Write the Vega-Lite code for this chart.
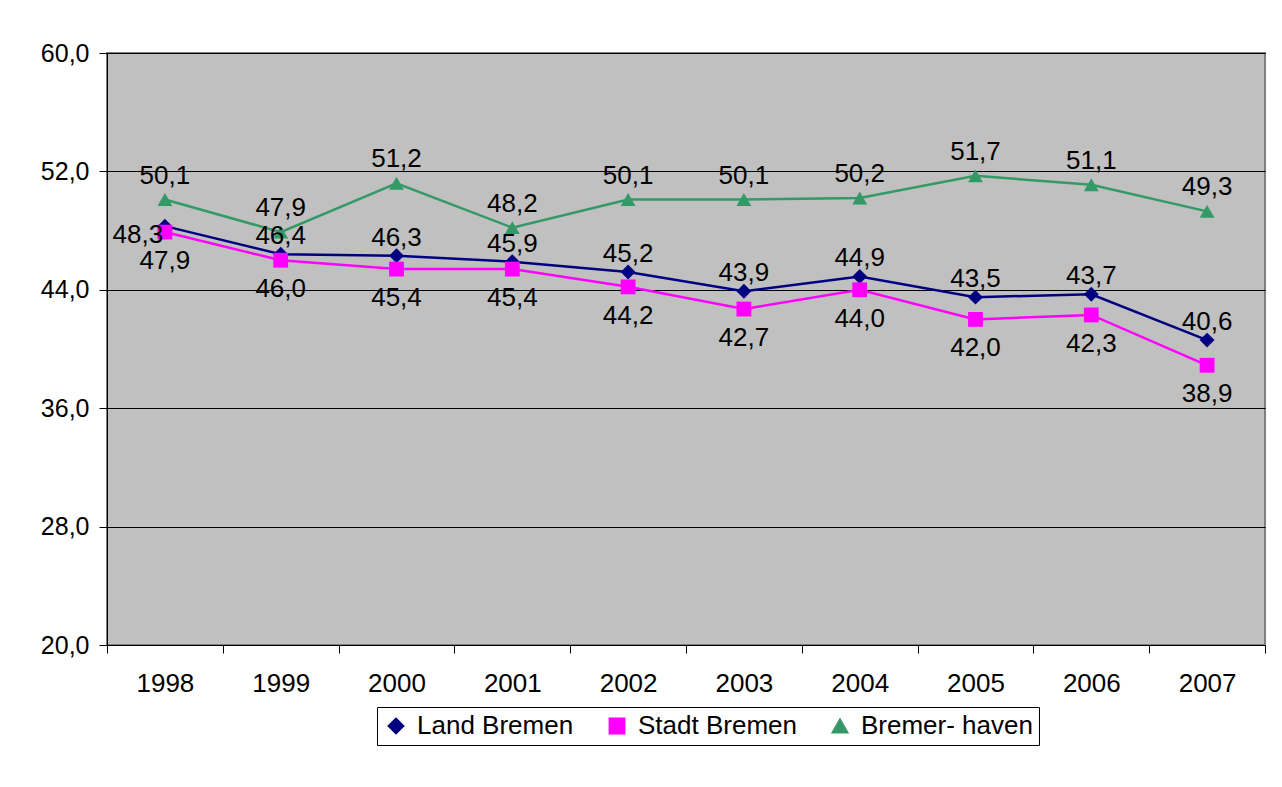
{
  "$schema": "https://vega.github.io/schema/vega-lite/v6.json",
  "autosize": {"type": "none"},
  "width": 1158,
  "height": 592,
  "padding": {"left": 107, "top": 53, "right": 17, "bottom": 142},
  "background": "white",
  "config": {
    "locale": {"number": {"decimal": ",", "thousands": ".", "grouping": [3], "currency": ["", " €"]}},
    "view": {"fill": "#C0C0C0", "stroke": "#808080", "strokeWidth": 2},
    "font": "Liberation Sans"
  },
  "data": {
    "values": [
      {"year": "1998", "series": "Land Bremen", "value": 48.3},
      {"year": "1999", "series": "Land Bremen", "value": 46.4},
      {"year": "2000", "series": "Land Bremen", "value": 46.3},
      {"year": "2001", "series": "Land Bremen", "value": 45.9},
      {"year": "2002", "series": "Land Bremen", "value": 45.2},
      {"year": "2003", "series": "Land Bremen", "value": 43.9},
      {"year": "2004", "series": "Land Bremen", "value": 44.9},
      {"year": "2005", "series": "Land Bremen", "value": 43.5},
      {"year": "2006", "series": "Land Bremen", "value": 43.7},
      {"year": "2007", "series": "Land Bremen", "value": 40.6},
      {"year": "1998", "series": "Stadt Bremen", "value": 47.9},
      {"year": "1999", "series": "Stadt Bremen", "value": 46.0},
      {"year": "2000", "series": "Stadt Bremen", "value": 45.4},
      {"year": "2001", "series": "Stadt Bremen", "value": 45.4},
      {"year": "2002", "series": "Stadt Bremen", "value": 44.2},
      {"year": "2003", "series": "Stadt Bremen", "value": 42.7},
      {"year": "2004", "series": "Stadt Bremen", "value": 44.0},
      {"year": "2005", "series": "Stadt Bremen", "value": 42.0},
      {"year": "2006", "series": "Stadt Bremen", "value": 42.3},
      {"year": "2007", "series": "Stadt Bremen", "value": 38.9},
      {"year": "1998", "series": "Bremer- haven", "value": 50.1},
      {"year": "1999", "series": "Bremer- haven", "value": 47.9},
      {"year": "2000", "series": "Bremer- haven", "value": 51.2},
      {"year": "2001", "series": "Bremer- haven", "value": 48.2},
      {"year": "2002", "series": "Bremer- haven", "value": 50.1},
      {"year": "2003", "series": "Bremer- haven", "value": 50.1},
      {"year": "2004", "series": "Bremer- haven", "value": 50.2},
      {"year": "2005", "series": "Bremer- haven", "value": 51.7},
      {"year": "2006", "series": "Bremer- haven", "value": 51.1},
      {"year": "2007", "series": "Bremer- haven", "value": 49.3}
    ]
  },
  "encoding": {
    "x": {
      "field": "year", "type": "ordinal",
      "scale": {"type": "band", "paddingInner": 0, "paddingOuter": 0},
      "axis": {
        "title": null, "labelAngle": 0, "labelFontSize": 26, "labelColor": "black",
        "domainColor": "black", "domainWidth": 1, "tickColor": "black", "tickSize": 8,
        "tickBand": "extent", "labelPadding": 17, "grid": false
      }
    },
    "y": {
      "field": "value", "type": "quantitative",
      "scale": {"domain": [20, 60], "nice": false, "zero": false},
      "axis": {
        "title": null, "values": [20, 28, 36, 44, 52, 60], "format": ".1f",
        "labelFontSize": 25, "labelColor": "black", "labelPadding": 10,
        "domainColor": "black", "domainWidth": 1, "tickColor": "black", "tickSize": 8,
        "grid": true, "gridColor": "black", "gridWidth": 1, "gridOpacity": 1
      }
    }
  },
  "layer": [
    {
      "mark": {"type": "line", "strokeWidth": 2.5},
      "encoding": {
        "color": {"field": "series", "type": "nominal",
          "scale": {"domain": ["Land Bremen", "Stadt Bremen", "Bremer- haven"], "range": ["#000080", "#FF00FF", "#339966"]}},
        "detail": {"field": "series"}
      }
    },
    {
      "mark": {"type": "point", "filled": true, "opacity": 1, "size": 220},
      "encoding": {
        "color": {"field": "series", "type": "nominal",
          "scale": {"domain": ["Land Bremen", "Stadt Bremen", "Bremer- haven"], "range": ["#000080", "#FF00FF", "#339966"]},
          "legend": {
            "orient": "none", "legendX": 270, "legendY": 654, "direction": "horizontal",
            "title": null, "strokeColor": "black", "fillColor": "white", "padding": 6,
            "labelFontSize": 26, "labelColor": "black", "labelLimit": 0, "symbolSize": 220, "symbolStrokeWidth": 2,
            "labelOffset": 8, "columnPadding": 30
          }},
        "shape": {"field": "series", "type": "nominal",
          "scale": {"domain": ["Land Bremen", "Stadt Bremen", "Bremer- haven"], "range": ["diamond", "square", "triangle-up"]}}
      }
    },
    {
      "transform": [{"filter": "datum.series === 'Land Bremen' && datum.year === '1998'"}],
      "mark": {"type": "text", "fontSize": 26, "color": "black", "dx": -27, "dy": 9},
      "encoding": {"text": {"field": "value", "type": "quantitative", "format": ".1f"}}
    },
    {
      "transform": [{"filter": "datum.series === 'Land Bremen' && datum.year !== '1998'"}],
      "mark": {"type": "text", "fontSize": 26, "color": "black", "dy": -18},
      "encoding": {"text": {"field": "value", "type": "quantitative", "format": ".1f"}}
    },
    {
      "transform": [{"filter": "datum.series === 'Stadt Bremen'"}],
      "mark": {"type": "text", "fontSize": 26, "color": "black", "dy": 29},
      "encoding": {"text": {"field": "value", "type": "quantitative", "format": ".1f"}}
    },
    {
      "transform": [{"filter": "datum.series === 'Bremer- haven'"}],
      "mark": {"type": "text", "fontSize": 26, "color": "black", "dy": -24},
      "encoding": {"text": {"field": "value", "type": "quantitative", "format": ".1f"}}
    }
  ]
}
